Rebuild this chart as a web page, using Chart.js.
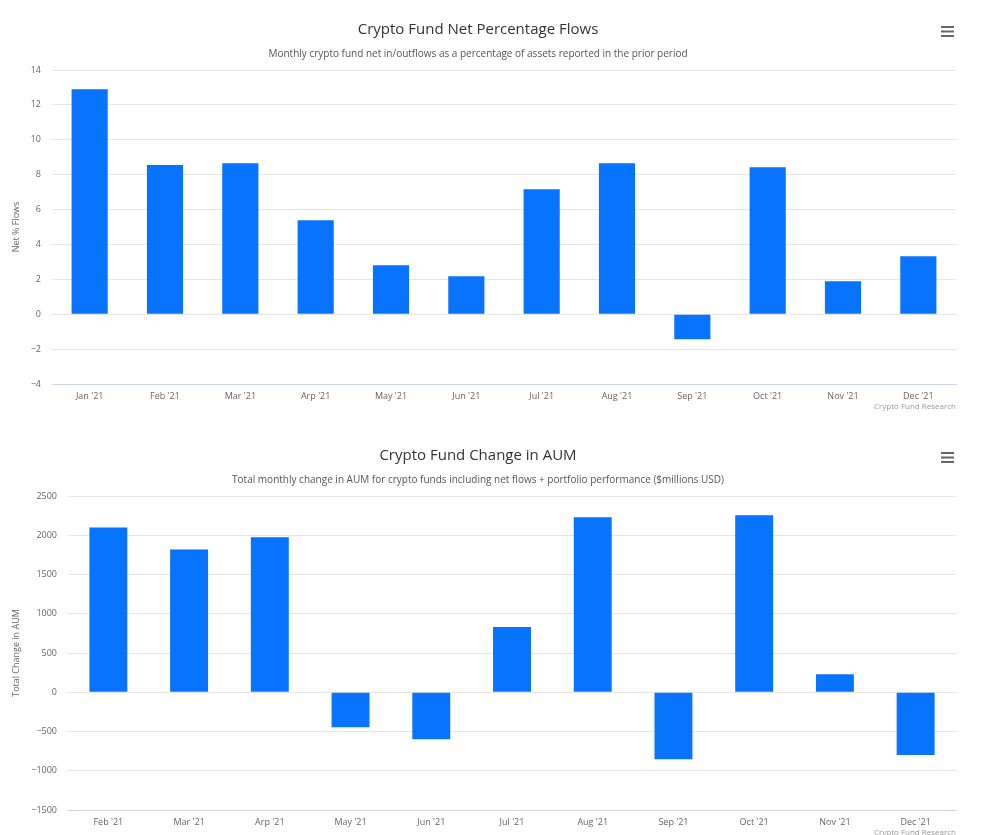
<!DOCTYPE html>
<html>
<head>
<meta charset="utf-8">
<script src="https://cdn.jsdelivr.net/npm/chart.js@4"></script>
<style>
  html, body { margin: 0; padding: 0; background: #fff; overflow: hidden; }
  .box { position: relative; width: 988px; height: 426px; }
</style>
</head>
<body>
<div class="box"><canvas id="flowsChart"></canvas></div>
<div class="box"><canvas id="aumChart"></canvas></div>
<script>
const flowMonths = ["Jan '21", "Feb '21", "Mar '21", "Arp '21", "May '21", "Jun '21", "Jul '21", "Aug '21", "Sep '21", "Oct '21", "Nov '21", "Dec '21"];
const flowValues = [12.9, 8.55, 8.66, 5.39, 2.81, 2.18, 7.17, 8.66, -1.43, 8.43, 1.89, 3.33];

const aumMonths = ["Feb '21", "Mar '21", "Arp '21", "May '21", "Jun '21", "Jul '21", "Aug '21", "Sep '21", "Oct '21", "Nov '21", "Dec '21"];
const aumValues = [2100, 1820, 1975, -445, -600, 830, 2230, -855, 2255, 230, -800];

const barColor = '#0873fc';
const fontFamily = '"Open Sans", "DejaVu Sans", sans-serif';

// credits text + hamburger menu icon, like the export button
const extrasPlugin = {
    id: 'extras',
    afterDraw(chart) {
        const ctx = chart.ctx;
        const area = chart.chartArea;
        ctx.save();
        ctx.fillStyle = '#999';
        ctx.font = '8px ' + fontFamily;
        ctx.textAlign = 'right';
        ctx.textBaseline = 'middle';
        ctx.fillText('Crypto Fund Research', area.right, area.bottom + 23);

        ctx.strokeStyle = '#666';
        ctx.lineWidth = 2;
        for (let i = 0; i < 3; i++) {
            const y = 27 + i * 4.5;
            ctx.beginPath();
            ctx.moveTo(941, y);
            ctx.lineTo(954, y);
            ctx.stroke();
        }
        ctx.restore();
    }
};

function tickText(value) {
    return value < 0 ? '\u2212' + Math.abs(value) : String(value);
}

function makeChart(id, labels, values, opts) {
    return new Chart(document.getElementById(id), {
        type: 'bar',
        data: {
            labels: labels,
            datasets: [{
                data: values,
                backgroundColor: barColor,
                borderWidth: 0,
                categoryPercentage: 1,
                barPercentage: opts.barPct
            }]
        },
        options: {
            responsive: true,
            maintainAspectRatio: false,
            animation: false,
            layout: { padding: { top: 21, right: 32, left: 0, bottom: 0 } },
            plugins: {
                legend: { display: false },
                tooltip: { enabled: false },
                title: {
                    display: true,
                    text: opts.title,
                    color: '#333',
                    font: { family: fontFamily, size: 15, weight: 'normal' },
                    padding: { top: 0, bottom: 0 }
                },
                subtitle: {
                    display: true,
                    text: opts.subtitle,
                    color: '#555',
                    font: { family: fontFamily, size: 10 },
                    padding: { top: 9, bottom: 10 }
                }
            },
            scales: {
                x: {
                    grid: { display: false, drawTicks: false },
                    border: { display: true, color: '#ccd6eb', width: 1 },
                    ticks: { color: '#666', font: { family: fontFamily, size: 9 }, padding: 7, maxRotation: 0 },
                    afterFit(scale) { scale.height = 42; }
                },
                y: {
                    min: opts.min,
                    max: opts.max,
                    ticks: {
                        stepSize: opts.step,
                        color: '#666',
                        font: { family: fontFamily, size: 9 },
                        padding: 11,
                        callback: tickText
                    },
                    grid: { color: '#e6e6e6', drawTicks: false },
                    border: { display: false },
                    title: {
                        display: true,
                        text: opts.yTitle,
                        color: '#666',
                        font: { family: fontFamily, size: 9 },
                        padding: { top: 11, bottom: 0 }
                    },
                    afterFit(scale) { scale.width = opts.axisWidth; }
                }
            }
        },
        plugins: [extrasPlugin]
    });
}

makeChart('flowsChart', flowMonths, flowValues, {
    title: 'Crypto Fund Net Percentage Flows',
    subtitle: 'Monthly crypto fund net in/outflows as a percentage of assets reported in the prior period',
    yTitle: 'Net % Flows',
    min: -4, max: 14, step: 2,
    axisWidth: 52,
    barPct: 0.48
});

makeChart('aumChart', aumMonths, aumValues, {
    title: 'Crypto Fund Change in AUM',
    subtitle: 'Total monthly change in AUM for crypto funds including net flows + portfolio performance ($millions USD)',
    yTitle: 'Total Change in AUM',
    min: -1500, max: 2500, step: 500,
    axisWidth: 68,
    barPct: 0.47
});
</script>
</body>
</html>
